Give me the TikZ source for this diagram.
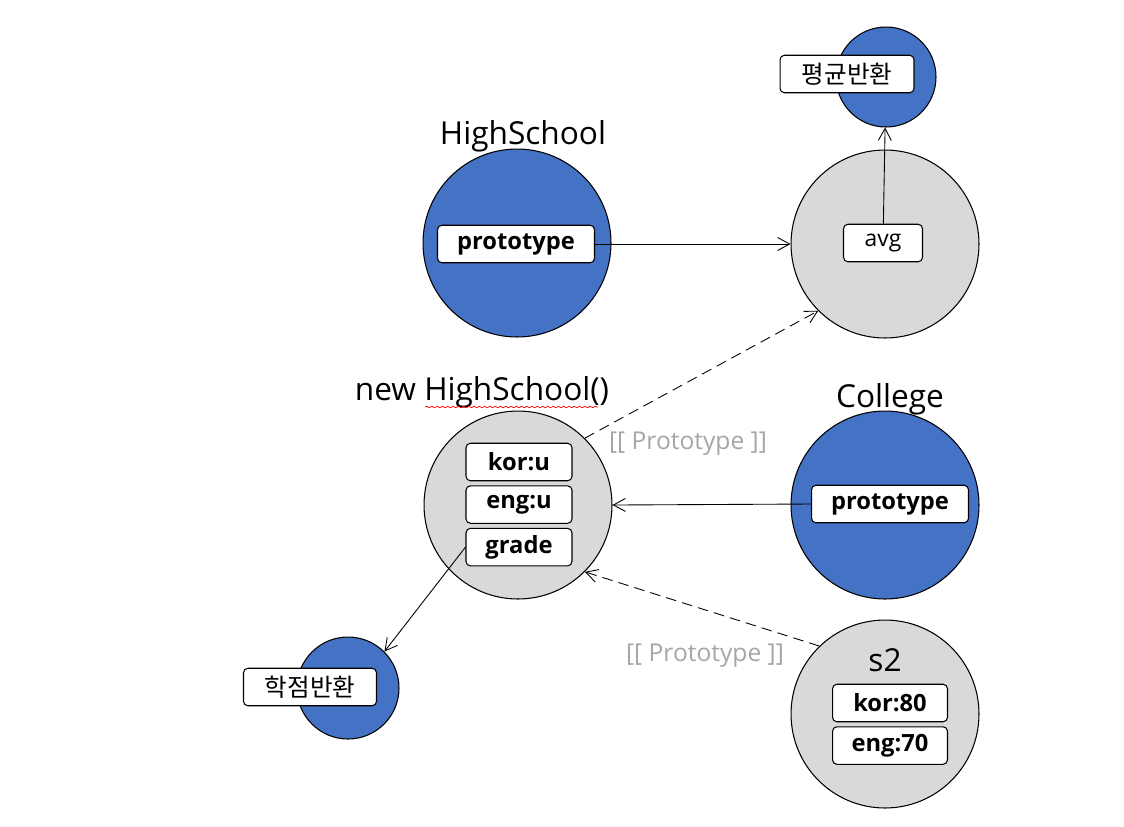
\documentclass[tikz,border=0pt]{standalone}
\usepackage{fontspec}
\setmainfont{Open Sans}
\newfontfamily\krfont{Noto Sans CJK KR}
\usetikzlibrary{arrows.meta,positioning,decorations.pathmorphing}

\definecolor{objblue}{HTML}{4472C4}
\definecolor{objgray}{HTML}{D9D9D9}
\definecolor{protogray}{HTML}{A6A6A6}

\begin{document}
\begin{tikzpicture}[x=0.02cm, y=-0.02cm, line width=0.6pt,
    every node/.style={font=\fontsize{13}{15}\selectfont},
    bigobj/.style={circle, draw, minimum size=3.76cm, inner sep=0pt},
    smallobj/.style={circle, draw, fill=objblue, minimum size=2.04cm, inner sep=0pt},
    field/.style={draw, fill=white, rounded corners=2.5pt, minimum height=0.75cm, inner sep=2pt},
    bfield/.style={field, font=\fontsize{13.5}{15}\selectfont\bfseries},
    krfield/.style={field, font=\fontsize{14}{16}\selectfont\krfont},
    title/.style={font=\fontsize{18}{20}\selectfont},
    protolabel/.style={text=protogray, font=\fontsize{14}{16}\selectfont},
    arr/.style={-{Straight Barb[length=2.4mm, width=2.6mm]}, line width=0.5pt}]
\useasboundingbox (0,0) rectangle (1124,826);

% HighSchool and its prototype object
\node[bigobj, fill=objblue] (hs) at (517,243) {};
\node[title] (hsname) at (523,136) {HighSchool};
\node[bfield, minimum width=3.14cm] (hsproto) at (516,244) {prototype};
\node[bigobj, fill=objgray] (proto) at (885,244) {};
\node[field, minimum width=1.58cm] (avg) at (883,243) {avg};
\node[smallobj, minimum size=2cm] (avgfn) at (886,77) {};
\node[krfield, minimum width=2.68cm] (avgret) at (847,74) {평균반환};

% instance made with new
\node[title] (instname) at (482,392) {new HighSchool()};
\draw[red, line width=0.4pt, decorate,
  decoration={snake, amplitude=0.4pt, segment length=3pt}] (425,407) -- (598,407);
\node[bigobj, fill=objgray] (inst) at (518,505) {};
\node[bfield, minimum width=2.12cm] (kor) at (519,462) {kor:u};
\node[bfield, minimum width=2.12cm, below=0.08cm of kor] (eng) {eng:u};
\node[bfield, minimum width=2.12cm, below=0.08cm of eng] (grade) {grade};
\node[smallobj] (gradefn) at (348,688) {};
\node[krfield, minimum width=2.66cm] (graderet) at (310,687) {학점반환};

% College
\node[title] (colname) at (890,399) {College};
\node[bigobj, fill=objblue] (col) at (885,505) {};
\node[bfield, minimum width=3.14cm] (colproto) at (890,504) {prototype};

% s2
\node[bigobj, fill=objgray] (s2) at (885,714) {};
\node[title] (s2name) at (885,660) {s2};
\node[bfield, minimum width=2.3cm] (kor2) at (890,703) {kor:80};
\node[bfield, minimum width=2.3cm, below=0.08cm of kor2] (eng2) {eng:70};

\node[protolabel] (plabel1) at (688,444) {[[ Prototype ]]};
\node[protolabel] (plabel2) at (705,656) {[[ Prototype ]]};

\draw[arr] (hsproto) -- (proto);
\draw[arr] (avg) -- (avgfn);
\draw[arr, dash pattern=on 6pt off 3.5pt] (inst.45) -- (proto.225);
\draw[arr] (colproto.west) -- (inst.east);
\draw[arr, dash pattern=on 6pt off 3.5pt] (s2.134) -- (inst.-45);
\draw[arr] (grade.west) -- (gradefn.45);
\end{tikzpicture}
\end{document}
